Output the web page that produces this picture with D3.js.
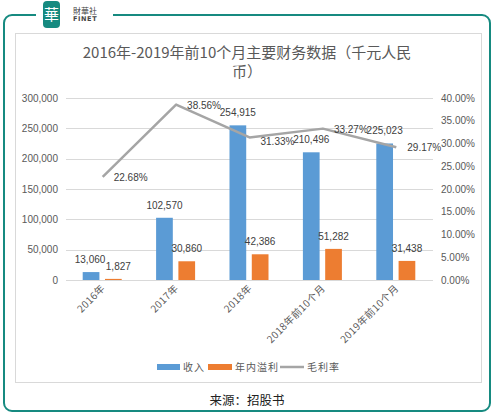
<!DOCTYPE html>
<html>
<head>
<meta charset="utf-8">
<script src="https://cdn.jsdelivr.net/npm/d3@7"></script>
<style>
  html, body { margin: 0; padding: 0; background: #fff; }
  svg { display: block; font-family: "Noto Sans CJK SC", "Liberation Sans", sans-serif; }
</style>
</head>
<body>
<svg width="494" height="414"></svg>
<script>
// data
const categories = ["2016年", "2017年", "2018年", "2018年前10个月", "2019年前10个月"];
const revenue = [13060, 102570, 254915, 210496, 225023];
const profit = [1827, 30860, 42386, 51282, 31438];
const margin = [22.68, 38.56, 31.33, 33.27, 29.17];
const leftTicks = [0, 50000, 100000, 150000, 200000, 250000, 300000];
const rightTicks = [0, 5, 10, 15, 20, 25, 30, 35, 40];
const seriesNames = ["收入", "年内溢利", "毛利率"];

const blue = "#5b9bd5", orange = "#ed7d31", gray = "#a5a5a5";
const teal = "#168a80";
const numFont = "Liberation Sans, Arial, sans-serif";
const svg = d3.select("svg");

// outer frame with the logo gap
const frame = d3.path();
frame.moveTo(36, 15);
frame.lineTo(12, 15);
frame.arcTo(4, 15, 4, 23, 8);
frame.lineTo(4, 403);
frame.arcTo(4, 411, 12, 411, 8);
frame.lineTo(482, 411);
frame.arcTo(490, 411, 490, 403, 8);
frame.lineTo(490, 23);
frame.arcTo(490, 15, 482, 15, 8);
frame.lineTo(113, 15);
svg.append("path").attr("d", frame.toString())
  .attr("fill", "none").attr("stroke", teal).attr("stroke-width", 2);

// logo
svg.append("rect").attr("x", 43).attr("y", 1).attr("width", 17).attr("height", 27)
  .attr("rx", 4).attr("fill", teal);
svg.append("text").attr("x", 51.5).attr("y", 20).attr("text-anchor", "middle")
  .attr("font-size", 15).attr("fill", "#fff").text("華");
svg.append("text").attr("x", 73).attr("y", 14).attr("font-size", 8)
  .attr("fill", "#444").text("財華社");
svg.append("text").attr("x", 73).attr("y", 21).attr("font-size", 6.5)
  .attr("font-family", "DejaVu Sans").attr("font-weight", "bold")
  .attr("letter-spacing", 0.6).attr("fill", "#444").text("FINET");

// inner chart box
svg.append("rect").attr("x", 15.5).attr("y", 33.5).attr("width", 466).attr("height", 349)
  .attr("fill", "#fff").attr("stroke", "#d9d9d9").attr("stroke-width", 1);

// title
const title = svg.append("text").attr("text-anchor", "middle")
  .attr("font-size", 15).attr("fill", "#595959");
title.append("tspan").attr("x", 247).attr("y", 58).text("2016年-2019年前10个月主要财务数据（千元人民");
title.append("tspan").attr("x", 247).attr("y", 77).text("币）");

// scales
const x0 = d3.scaleBand().domain(categories).range([66, 433]);
const x1 = d3.scaleBand().domain([0, 1]).range([-20, 19]).paddingInner(0.25);
const yL = d3.scaleLinear().domain([0, 300000]).range([280, 98]);
const yR = d3.scaleLinear().domain([0, 40]).range([280, 98]);
const cx = c => x0(c) + x0.bandwidth() / 2;

// gridlines
svg.append("g").selectAll("line").data(leftTicks).join("line")
  .attr("x1", 66).attr("x2", 433)
  .attr("y1", d => Math.round(yL(d)) + 0.5).attr("y2", d => Math.round(yL(d)) + 0.5)
  .attr("stroke", "#d9d9d9").attr("stroke-width", 1);

// left axis
const axL = svg.append("g").attr("transform", "translate(66,0)")
  .call(d3.axisLeft(yL).tickValues(leftTicks).tickSize(0).tickPadding(8)
    .tickFormat(d3.format(",")));
axL.select(".domain").remove();
axL.selectAll("text").attr("font-size", 10).attr("fill", "#595959")
  .attr("font-family", numFont);

// right axis
const axR = svg.append("g").attr("transform", "translate(433,0)")
  .call(d3.axisRight(yR).tickValues(rightTicks).tickSize(0).tickPadding(8)
    .tickFormat(d => d.toFixed(2) + "%"));
axR.select(".domain").remove();
axR.selectAll("text").attr("font-size", 10).attr("fill", "#595959")
  .attr("font-family", numFont);

// category labels
svg.append("g").selectAll("text").data(categories).join("text")
  .attr("transform", d => `translate(${cx(d) + 3},${289}) rotate(-45)`)
  .attr("text-anchor", "end").attr("font-size", 10).attr("fill", "#595959")
  .attr("letter-spacing", 0.4)
  .text(d => d);

// bars
const series = [revenue, profit];
const colors = [blue, orange];
series.forEach((vals, s) => {
  svg.append("g").selectAll("rect").data(vals).join("rect")
    .attr("x", (d, i) => cx(categories[i]) + x1(s))
    .attr("width", x1.bandwidth())
    .attr("y", d => yL(d))
    .attr("height", d => yL(0) - yL(d))
    .attr("fill", colors[s]);
  svg.append("g").selectAll("text").data(vals).join("text")
    .attr("x", (d, i) => cx(categories[i]) + x1(s) + x1.bandwidth() / 2 + (i === 0 ? (s === 1 ? 5 : -1) : 0))
    .attr("y", d => yL(d) - 9)
    .attr("text-anchor", "middle").attr("font-size", 10).attr("fill", "#404040")
    .attr("font-family", numFont)
    .text(d => d3.format(",")(d));
});

// margin line
const line = d3.line().x((d, i) => cx(categories[i])).y(d => yR(d));
svg.append("path").datum(margin).attr("d", line)
  .attr("fill", "none").attr("stroke", gray).attr("stroke-width", 2.5)
  .attr("stroke-linejoin", "round");
svg.append("g").selectAll("text").data(margin).join("text")
  .attr("x", (d, i) => cx(categories[i]) + 11)
  .attr("y", (d, i) => yR(d) + (i === 2 ? 8 : 4))
  .attr("font-size", 10).attr("fill", "#404040")
  .attr("font-family", numFont)
  .text(d => d.toFixed(2) + "%");

// legend
const leg = svg.append("g");
const legItems = [
  { x: 157, w: 23, color: blue, type: "rect", name: seriesNames[0] },
  { x: 208, w: 24, color: orange, type: "rect", name: seriesNames[1] },
  { x: 280, w: 24, color: gray, type: "line", name: seriesNames[2] }
];
legItems.forEach(it => {
  if (it.type === "rect") {
    leg.append("rect").attr("x", it.x).attr("y", 364).attr("width", it.w).attr("height", 6)
      .attr("fill", it.color);
  } else {
    leg.append("line").attr("x1", it.x).attr("x2", it.x + it.w).attr("y1", 367).attr("y2", 367)
      .attr("stroke", it.color).attr("stroke-width", 2.5);
  }
  leg.append("text").attr("x", it.x + it.w + 3).attr("y", 371)
    .attr("font-size", 10).attr("fill", "#595959").attr("letter-spacing", 1).text(it.name);
});

// source
svg.append("text").attr("x", 247).attr("y", 405).attr("text-anchor", "middle")
  .attr("font-size", 12.5).attr("fill", "#222").text("来源：招股书");
</script>
</body>
</html>
